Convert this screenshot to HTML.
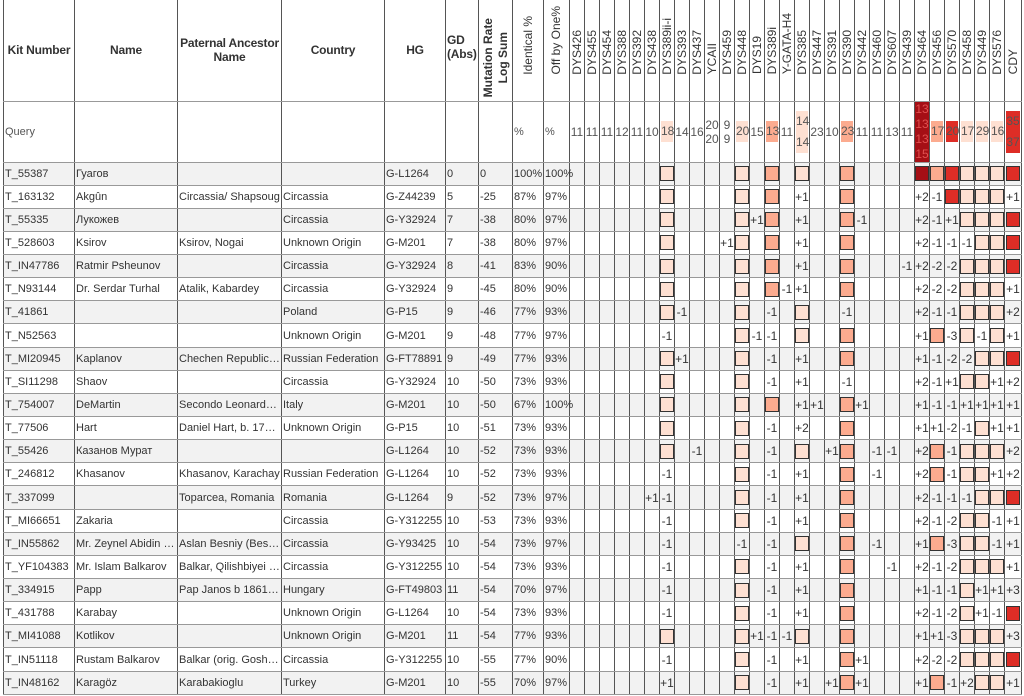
<!DOCTYPE html>
<html><head><meta charset="utf-8"><style>
html,body{margin:0;padding:0;background:#fff;width:1024px;height:696px;overflow:hidden}
table{position:absolute;left:3px;top:0;width:1018px;border-collapse:collapse;table-layout:fixed;font-family:"Liberation Sans",Arial,sans-serif;font-size:12px;color:#333}
td{border-left:1px solid #555;border-right:1px solid #555;border-bottom:1px solid #999;padding:0;white-space:nowrap;overflow:visible;height:23.15px;text-align:center;vertical-align:middle;box-sizing:border-box}
tr.g td{background:#f2f2f2}
td.l{text-align:left;padding-left:1px;font-size:11px}
td.e{overflow:hidden;text-overflow:ellipsis}
tr.h td{height:101px;font-weight:bold;vertical-align:middle;letter-spacing:-0.2px}
tr.h td.r{padding:0;font-weight:normal;overflow:hidden;letter-spacing:0}
.w{height:100px;display:flex;flex-direction:column;justify-content:flex-end;align-items:center;padding-bottom:26px;box-sizing:border-box;overflow:hidden}
.w div{writing-mode:vertical-rl;transform:rotate(180deg);line-height:15px;white-space:nowrap}
tr.q td{height:61px;color:#555}
tr.q td span{display:block;line-height:21px;margin:0 1px}
i{display:block;width:12px;height:13px;border:1.5px solid #333;margin:0 auto}
.L{background:#fee0d2}.M{background:#fcab8f}.R{background:#de2d26}.D{background:#a50f15}
</style></head><body>
<table>
<colgroup><col style="width:71px"><col style="width:103px"><col style="width:104px"><col style="width:103px"><col style="width:61px"><col style="width:33px"><col style="width:34px"><col style="width:31px"><col style="width:26px">
<col style="width:15px"><col style="width:15px"><col style="width:15px"><col style="width:15px"><col style="width:15px"><col style="width:15px"><col style="width:15px"><col style="width:15px"><col style="width:15px"><col style="width:15px"><col style="width:15px"><col style="width:15px"><col style="width:15px"><col style="width:15px"><col style="width:15px"><col style="width:15px"><col style="width:15px"><col style="width:15px"><col style="width:15px"><col style="width:15px"><col style="width:15px"><col style="width:15px"><col style="width:15px"><col style="width:15px"><col style="width:15px"><col style="width:15px"><col style="width:15px"><col style="width:15px"><col style="width:15px"><col style="width:17px"></colgroup>
<tr class="h"><td>Kit Number</td><td>Name</td><td style="white-space:normal">Paternal Ancestor Name</td><td>Country</td><td>HG</td><td class="l" style="white-space:normal;vertical-align:top;padding-top:33px;font-size:12px">GD (Abs)</td>
<td class="r" style="font-weight:bold"><div class="w" style="padding-bottom:3px"><div>Mutation Rate<br>Log Sum</div></div></td><td class="r"><div class="w"><div>Identical %</div></div></td><td class="r"><div class="w"><div>Off by One%</div></div></td>
<td class="r"><div class="w"><div>DYS426</div></div></td><td class="r"><div class="w"><div>DYS455</div></div></td><td class="r"><div class="w"><div>DYS454</div></div></td><td class="r"><div class="w"><div>DYS388</div></div></td><td class="r"><div class="w"><div>DYS392</div></div></td><td class="r"><div class="w"><div>DYS438</div></div></td><td class="r"><div class="w"><div>DYS389ii-i</div></div></td><td class="r"><div class="w"><div>DYS393</div></div></td><td class="r"><div class="w"><div>DYS437</div></div></td><td class="r"><div class="w"><div>YCAII</div></div></td><td class="r"><div class="w"><div>DYS459</div></div></td><td class="r"><div class="w"><div>DYS448</div></div></td><td class="r"><div class="w"><div>DYS19</div></div></td><td class="r"><div class="w"><div>DYS389i</div></div></td><td class="r"><div class="w"><div>Y-GATA-H4</div></div></td><td class="r"><div class="w"><div>DYS385</div></div></td><td class="r"><div class="w"><div>DYS447</div></div></td><td class="r"><div class="w"><div>DYS391</div></div></td><td class="r"><div class="w"><div>DYS390</div></div></td><td class="r"><div class="w"><div>DYS442</div></div></td><td class="r"><div class="w"><div>DYS460</div></div></td><td class="r"><div class="w"><div>DYS607</div></div></td><td class="r"><div class="w"><div>DYS439</div></div></td><td class="r"><div class="w"><div>DYS464</div></div></td><td class="r"><div class="w"><div>DYS456</div></div></td><td class="r"><div class="w"><div>DYS570</div></div></td><td class="r"><div class="w"><div>DYS458</div></div></td><td class="r"><div class="w"><div>DYS449</div></div></td><td class="r"><div class="w"><div>DYS576</div></div></td><td class="r"><div class="w"><div>CDY</div></div></td></tr>
<tr class="q"><td class="l">Query</td><td></td><td></td><td></td><td></td><td></td><td></td><td class="l">%</td><td class="l">%</td>
<td>11</td><td>11</td><td>11</td><td>12</td><td>11</td><td>10</td><td><span class="L">18</span></td><td>14</td><td>16</td><td>20<br>20</td><td>9<br>9</td><td><span class="L">20</span></td><td>15</td><td><span class="M">13</span></td><td>11</td><td><span class="L">14<br>14</span></td><td>23</td><td>10</td><td><span class="M">23</span></td><td>11</td><td>11</td><td>13</td><td>11</td><td style="padding:0"><span class="D" style="color:#e05050;line-height:15px;height:60px;margin:0">13<br>13<br>13<br>15</span></td><td><span class="M">17</span></td><td><span class="R">20</span></td><td><span class="L">17</span></td><td><span class="L">29</span></td><td><span class="L">16</span></td><td><span class="R">35<br>37</span></td></tr>

<tr class="g"><td class="l">T_55387</td><td class="l e">Гуагов</td><td class="l e"></td><td class="l e"></td><td class="l">G-L1264</td><td class="l">0</td><td class="l">0</td><td class="l">100%</td><td class="l">100%</td>
<td></td><td></td><td></td><td></td><td></td><td></td><td><i class="L"></i></td><td></td><td></td><td></td><td></td><td><i class="L"></i></td><td></td><td><i class="M"></i></td><td></td><td><i class="L"></i></td><td></td><td></td><td><i class="M"></i></td><td></td><td></td><td></td><td></td><td><i class="D"></i></td><td><i class="M"></i></td><td><i class="R"></i></td><td><i class="L"></i></td><td><i class="L"></i></td><td><i class="L"></i></td><td><i class="R"></i></td></tr>

<tr><td class="l">T_163132</td><td class="l e">Akgûn</td><td class="l e">Circassia/ Shapsoug</td><td class="l e">Circassia</td><td class="l">G-Z44239</td><td class="l">5</td><td class="l">-25</td><td class="l">87%</td><td class="l">97%</td>
<td></td><td></td><td></td><td></td><td></td><td></td><td><i class="L"></i></td><td></td><td></td><td></td><td></td><td><i class="L"></i></td><td></td><td><i class="M"></i></td><td></td><td>+1</td><td></td><td></td><td><i class="M"></i></td><td></td><td></td><td></td><td></td><td>+2</td><td>-1</td><td><i class="R"></i></td><td><i class="L"></i></td><td><i class="L"></i></td><td><i class="L"></i></td><td>+1</td></tr>

<tr class="g"><td class="l">T_55335</td><td class="l e">Лукожев</td><td class="l e"></td><td class="l e">Circassia</td><td class="l">G-Y32924</td><td class="l">7</td><td class="l">-38</td><td class="l">80%</td><td class="l">97%</td>
<td></td><td></td><td></td><td></td><td></td><td></td><td><i class="L"></i></td><td></td><td></td><td></td><td></td><td><i class="L"></i></td><td>+1</td><td><i class="M"></i></td><td></td><td>+1</td><td></td><td></td><td><i class="M"></i></td><td>-1</td><td></td><td></td><td></td><td>+2</td><td>-1</td><td>+1</td><td><i class="L"></i></td><td><i class="L"></i></td><td><i class="L"></i></td><td><i class="R"></i></td></tr>

<tr><td class="l">T_528603</td><td class="l e">Ksirov</td><td class="l e">Ksirov, Nogai</td><td class="l e">Unknown Origin</td><td class="l">G-M201</td><td class="l">7</td><td class="l">-38</td><td class="l">80%</td><td class="l">97%</td>
<td></td><td></td><td></td><td></td><td></td><td></td><td><i class="L"></i></td><td></td><td></td><td></td><td>+1</td><td><i class="L"></i></td><td></td><td><i class="M"></i></td><td></td><td>+1</td><td></td><td></td><td><i class="M"></i></td><td></td><td></td><td></td><td></td><td>+2</td><td>-1</td><td>-1</td><td>-1</td><td><i class="L"></i></td><td><i class="L"></i></td><td><i class="R"></i></td></tr>

<tr class="g"><td class="l">T_IN47786</td><td class="l e">Ratmir Psheunov</td><td class="l e"></td><td class="l e">Circassia</td><td class="l">G-Y32924</td><td class="l">8</td><td class="l">-41</td><td class="l">83%</td><td class="l">90%</td>
<td></td><td></td><td></td><td></td><td></td><td></td><td><i class="L"></i></td><td></td><td></td><td></td><td></td><td><i class="L"></i></td><td></td><td><i class="M"></i></td><td></td><td>+1</td><td></td><td></td><td><i class="M"></i></td><td></td><td></td><td></td><td>-1</td><td>+2</td><td>-2</td><td>-2</td><td><i class="L"></i></td><td><i class="L"></i></td><td><i class="L"></i></td><td><i class="R"></i></td></tr>

<tr><td class="l">T_N93144</td><td class="l e">Dr. Serdar Turhal</td><td class="l e">Atalik, Kabardey</td><td class="l e">Circassia</td><td class="l">G-Y32924</td><td class="l">9</td><td class="l">-45</td><td class="l">80%</td><td class="l">90%</td>
<td></td><td></td><td></td><td></td><td></td><td></td><td><i class="L"></i></td><td></td><td></td><td></td><td></td><td><i class="L"></i></td><td></td><td><i class="M"></i></td><td>-1</td><td>+1</td><td></td><td></td><td><i class="M"></i></td><td></td><td></td><td></td><td></td><td>+2</td><td>-2</td><td>-2</td><td><i class="L"></i></td><td><i class="L"></i></td><td><i class="L"></i></td><td>+1</td></tr>

<tr class="g"><td class="l">T_41861</td><td class="l e"></td><td class="l e"></td><td class="l e">Poland</td><td class="l">G-P15</td><td class="l">9</td><td class="l">-46</td><td class="l">77%</td><td class="l">93%</td>
<td></td><td></td><td></td><td></td><td></td><td></td><td><i class="L"></i></td><td>-1</td><td></td><td></td><td></td><td><i class="L"></i></td><td></td><td>-1</td><td></td><td><i class="L"></i></td><td></td><td></td><td>-1</td><td></td><td></td><td></td><td></td><td>+2</td><td>-1</td><td>-1</td><td><i class="L"></i></td><td><i class="L"></i></td><td><i class="L"></i></td><td>+2</td></tr>

<tr><td class="l">T_N52563</td><td class="l e"></td><td class="l e"></td><td class="l e">Unknown Origin</td><td class="l">G-M201</td><td class="l">9</td><td class="l">-48</td><td class="l">77%</td><td class="l">97%</td>
<td></td><td></td><td></td><td></td><td></td><td></td><td>-1</td><td></td><td></td><td></td><td></td><td><i class="L"></i></td><td>-1</td><td>-1</td><td></td><td><i class="L"></i></td><td></td><td></td><td><i class="M"></i></td><td></td><td></td><td></td><td></td><td>+1</td><td><i class="M"></i></td><td>-3</td><td><i class="L"></i></td><td>-1</td><td><i class="L"></i></td><td>+1</td></tr>

<tr class="g"><td class="l">T_MI20945</td><td class="l e">Kaplanov</td><td class="l e">Chechen Republic, Vedeno</td><td class="l e">Russian Federation</td><td class="l">G-FT78891</td><td class="l">9</td><td class="l">-49</td><td class="l">77%</td><td class="l">93%</td>
<td></td><td></td><td></td><td></td><td></td><td></td><td><i class="L"></i></td><td>+1</td><td></td><td></td><td></td><td><i class="L"></i></td><td></td><td>-1</td><td></td><td>+1</td><td></td><td></td><td><i class="M"></i></td><td></td><td></td><td></td><td></td><td>+1</td><td>-1</td><td>-2</td><td>-2</td><td><i class="L"></i></td><td><i class="L"></i></td><td><i class="R"></i></td></tr>

<tr><td class="l">T_SI11298</td><td class="l e">Shaov</td><td class="l e"></td><td class="l e">Circassia</td><td class="l">G-Y32924</td><td class="l">10</td><td class="l">-50</td><td class="l">73%</td><td class="l">93%</td>
<td></td><td></td><td></td><td></td><td></td><td></td><td><i class="L"></i></td><td></td><td></td><td></td><td></td><td><i class="L"></i></td><td></td><td>-1</td><td></td><td>+1</td><td></td><td></td><td>-1</td><td></td><td></td><td></td><td></td><td>+2</td><td>-1</td><td>+1</td><td><i class="L"></i></td><td><i class="L"></i></td><td>+1</td><td>+2</td></tr>

<tr class="g"><td class="l">T_754007</td><td class="l e">DeMartin</td><td class="l e">Secondo Leonardo DeMartin</td><td class="l e">Italy</td><td class="l">G-M201</td><td class="l">10</td><td class="l">-50</td><td class="l">67%</td><td class="l">100%</td>
<td></td><td></td><td></td><td></td><td></td><td></td><td><i class="L"></i></td><td></td><td></td><td></td><td></td><td><i class="L"></i></td><td></td><td><i class="M"></i></td><td></td><td>+1</td><td>+1</td><td></td><td><i class="M"></i></td><td>+1</td><td></td><td></td><td></td><td>+1</td><td>-1</td><td>-1</td><td>+1</td><td>+1</td><td>+1</td><td>+1</td></tr>

<tr><td class="l">T_77506</td><td class="l e">Hart</td><td class="l e">Daniel Hart, b. 1790 and d.</td><td class="l e">Unknown Origin</td><td class="l">G-P15</td><td class="l">10</td><td class="l">-51</td><td class="l">73%</td><td class="l">93%</td>
<td></td><td></td><td></td><td></td><td></td><td></td><td><i class="L"></i></td><td></td><td></td><td></td><td></td><td><i class="L"></i></td><td></td><td>-1</td><td></td><td>+2</td><td></td><td></td><td><i class="M"></i></td><td></td><td></td><td></td><td></td><td>+1</td><td>+1</td><td>-2</td><td>-1</td><td><i class="L"></i></td><td>+1</td><td>+1</td></tr>

<tr class="g"><td class="l">T_55426</td><td class="l e">Казанов Мурат</td><td class="l e"></td><td class="l e"></td><td class="l">G-L1264</td><td class="l">10</td><td class="l">-52</td><td class="l">73%</td><td class="l">93%</td>
<td></td><td></td><td></td><td></td><td></td><td></td><td><i class="L"></i></td><td></td><td>-1</td><td></td><td></td><td><i class="L"></i></td><td></td><td>-1</td><td></td><td><i class="L"></i></td><td></td><td>+1</td><td><i class="M"></i></td><td></td><td>-1</td><td>-1</td><td></td><td>+2</td><td><i class="M"></i></td><td>-1</td><td><i class="L"></i></td><td><i class="L"></i></td><td><i class="L"></i></td><td>+2</td></tr>

<tr><td class="l">T_246812</td><td class="l e">Khasanov</td><td class="l e">Khasanov, Karachay</td><td class="l e">Russian Federation</td><td class="l">G-L1264</td><td class="l">10</td><td class="l">-52</td><td class="l">73%</td><td class="l">93%</td>
<td></td><td></td><td></td><td></td><td></td><td></td><td>-1</td><td></td><td></td><td></td><td></td><td><i class="L"></i></td><td></td><td>-1</td><td></td><td>+1</td><td></td><td></td><td><i class="M"></i></td><td></td><td>-1</td><td></td><td></td><td>+2</td><td><i class="M"></i></td><td>-1</td><td><i class="L"></i></td><td><i class="L"></i></td><td>+1</td><td>+2</td></tr>

<tr class="g"><td class="l">T_337099</td><td class="l e"></td><td class="l e">Toparcea, Romania</td><td class="l e">Romania</td><td class="l">G-L1264</td><td class="l">9</td><td class="l">-52</td><td class="l">73%</td><td class="l">97%</td>
<td></td><td></td><td></td><td></td><td></td><td>+1</td><td>-1</td><td></td><td></td><td></td><td></td><td><i class="L"></i></td><td></td><td>-1</td><td></td><td>+1</td><td></td><td></td><td><i class="M"></i></td><td></td><td></td><td></td><td></td><td>+2</td><td>-1</td><td>-1</td><td>-1</td><td><i class="L"></i></td><td><i class="L"></i></td><td><i class="R"></i></td></tr>

<tr><td class="l">T_MI66651</td><td class="l e">Zakaria</td><td class="l e"></td><td class="l e">Circassia</td><td class="l">G-Y312255</td><td class="l">10</td><td class="l">-53</td><td class="l">73%</td><td class="l">93%</td>
<td></td><td></td><td></td><td></td><td></td><td></td><td>-1</td><td></td><td></td><td></td><td></td><td><i class="L"></i></td><td></td><td>-1</td><td></td><td>+1</td><td></td><td></td><td><i class="M"></i></td><td></td><td></td><td></td><td></td><td>+2</td><td>-1</td><td>-2</td><td><i class="L"></i></td><td><i class="L"></i></td><td>-1</td><td>+1</td></tr>

<tr class="g"><td class="l">T_IN55862</td><td class="l e">Mr. Zeynel Abidin Besleney</td><td class="l e">Aslan Besniy (Besleney)</td><td class="l e">Circassia</td><td class="l">G-Y93425</td><td class="l">10</td><td class="l">-54</td><td class="l">73%</td><td class="l">97%</td>
<td></td><td></td><td></td><td></td><td></td><td></td><td>-1</td><td></td><td></td><td></td><td></td><td>-1</td><td></td><td>-1</td><td></td><td><i class="L"></i></td><td></td><td></td><td><i class="M"></i></td><td></td><td>-1</td><td></td><td></td><td>+1</td><td><i class="M"></i></td><td>-3</td><td><i class="L"></i></td><td><i class="L"></i></td><td>-1</td><td>+1</td></tr>

<tr><td class="l">T_YF104383</td><td class="l e">Mr. Islam Balkarov</td><td class="l e">Balkar, Qilishbiyei (Kabarda)</td><td class="l e">Circassia</td><td class="l">G-Y312255</td><td class="l">10</td><td class="l">-54</td><td class="l">73%</td><td class="l">93%</td>
<td></td><td></td><td></td><td></td><td></td><td></td><td>-1</td><td></td><td></td><td></td><td></td><td><i class="L"></i></td><td></td><td>-1</td><td></td><td>+1</td><td></td><td></td><td><i class="M"></i></td><td></td><td></td><td>-1</td><td></td><td>+2</td><td>-1</td><td>-2</td><td><i class="L"></i></td><td><i class="L"></i></td><td><i class="L"></i></td><td>+1</td></tr>

<tr class="g"><td class="l">T_334915</td><td class="l e">Papp</td><td class="l e">Pap Janos b 1861 d 1921</td><td class="l e">Hungary</td><td class="l">G-FT49803</td><td class="l">11</td><td class="l">-54</td><td class="l">70%</td><td class="l">97%</td>
<td></td><td></td><td></td><td></td><td></td><td></td><td>-1</td><td></td><td></td><td></td><td></td><td><i class="L"></i></td><td></td><td>-1</td><td></td><td>+1</td><td></td><td></td><td><i class="M"></i></td><td></td><td></td><td></td><td></td><td>+1</td><td>-1</td><td>-1</td><td><i class="L"></i></td><td>+1</td><td>+1</td><td>+3</td></tr>

<tr><td class="l">T_431788</td><td class="l e">Karabay</td><td class="l e"></td><td class="l e">Unknown Origin</td><td class="l">G-L1264</td><td class="l">10</td><td class="l">-54</td><td class="l">73%</td><td class="l">93%</td>
<td></td><td></td><td></td><td></td><td></td><td></td><td>-1</td><td></td><td></td><td></td><td></td><td><i class="L"></i></td><td></td><td>-1</td><td></td><td>+1</td><td></td><td></td><td><i class="M"></i></td><td></td><td></td><td></td><td></td><td>+2</td><td>-1</td><td>-2</td><td><i class="L"></i></td><td>+1</td><td>-1</td><td><i class="R"></i></td></tr>

<tr class="g"><td class="l">T_MI41088</td><td class="l e">Kotlikov</td><td class="l e"></td><td class="l e">Unknown Origin</td><td class="l">G-M201</td><td class="l">11</td><td class="l">-54</td><td class="l">77%</td><td class="l">93%</td>
<td></td><td></td><td></td><td></td><td></td><td></td><td><i class="L"></i></td><td></td><td></td><td></td><td></td><td><i class="L"></i></td><td>+1</td><td>-1</td><td>-1</td><td><i class="L"></i></td><td></td><td></td><td><i class="M"></i></td><td></td><td></td><td></td><td></td><td>+1</td><td>+1</td><td>-3</td><td><i class="L"></i></td><td><i class="L"></i></td><td><i class="L"></i></td><td>+3</td></tr>

<tr><td class="l">T_IN51118</td><td class="l e">Rustam Balkarov</td><td class="l e">Balkar (orig. Goshokhov)</td><td class="l e">Circassia</td><td class="l">G-Y312255</td><td class="l">10</td><td class="l">-55</td><td class="l">77%</td><td class="l">90%</td>
<td></td><td></td><td></td><td></td><td></td><td></td><td>-1</td><td></td><td></td><td></td><td></td><td><i class="L"></i></td><td></td><td>-1</td><td></td><td>+1</td><td></td><td></td><td><i class="M"></i></td><td>+1</td><td></td><td></td><td></td><td>+2</td><td>-2</td><td>-2</td><td><i class="L"></i></td><td><i class="L"></i></td><td><i class="L"></i></td><td><i class="R"></i></td></tr>

<tr class="g"><td class="l">T_IN48162</td><td class="l e">Karagöz</td><td class="l e">Karabakioglu</td><td class="l e">Turkey</td><td class="l">G-M201</td><td class="l">10</td><td class="l">-55</td><td class="l">70%</td><td class="l">97%</td>
<td></td><td></td><td></td><td></td><td></td><td></td><td>+1</td><td></td><td></td><td></td><td></td><td><i class="L"></i></td><td></td><td>-1</td><td></td><td>+1</td><td></td><td>+1</td><td><i class="M"></i></td><td>+1</td><td></td><td></td><td></td><td>+1</td><td><i class="M"></i></td><td>-1</td><td>+2</td><td><i class="L"></i></td><td><i class="L"></i></td><td>+1</td></tr>
</table>
</body></html>
